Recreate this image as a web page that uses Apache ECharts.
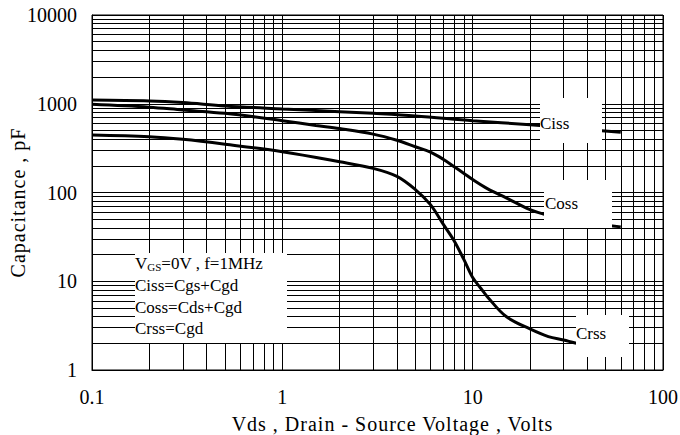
<!DOCTYPE html>
<html>
<head>
<meta charset="utf-8">
<script src="https://cdn.jsdelivr.net/npm/echarts@6/dist/echarts.min.js"></script>
<style>html,body{margin:0;padding:0;background:#fff}#c{width:680px;height:435px}</style>
</head>
<body>
<div id="c"></div>
<script>
// ---- data ----
var cissX = [0.1, 0.2, 0.3, 0.5, 1, 2, 3, 5, 10, 20, 30, 60];
var cissY = [1100, 1075, 1030, 945, 875, 815, 780, 730, 645, 580, 540, 476];

var cossX = [0.1, 0.2, 0.3, 0.5, 1, 1.5, 2, 3, 4, 5, 6, 7, 8, 9, 10, 12, 15, 20, 25, 30, 40, 60];
var cossY = [985, 915, 850, 780, 645, 570, 525, 455, 388, 328, 285, 237, 195, 164, 140, 110, 87, 64, 55, 51, 46, 41];

var crssX = [0.1, 0.2, 0.3, 0.5, 1, 2, 3, 4, 5, 6, 7, 8, 9, 10, 11, 12, 15, 20, 25, 30, 35];
var crssY = [445, 425, 397, 350, 288, 222, 187, 152, 108, 73, 44, 28.5, 17.5, 11, 8.4, 6.6, 4.0, 2.9, 2.38, 2.18, 2.0];

var xTicks = [0.1, 1, 10, 100];
var yTicks = [1, 10, 100, 1000, 10000];
var xName = 'Vds , Drain - Source Voltage , Volts';
var yName = 'Capacitance , pF';
var curveLabels = ['Ciss', 'Coss', 'Crss'];
var noteLines = ['Ciss=Cgs+Cgd', 'Coss=Cds+Cgd', 'Crss=Cgd'];

function pairs(xs, ys) { return xs.map(function (x, i) { return [x, ys[i]]; }); }

// minor grid values at 2..9 within each decade
var minorX = [], minorY = [];
[0.1, 1, 10].forEach(function (d) { for (var k = 2; k <= 9; k++) minorX.push(+(k * d).toFixed(3)); });
[1, 10, 100, 1000].forEach(function (d) { for (var k = 2; k <= 9; k++) minorY.push(k * d); });

var FONT = '"Liberation Serif", "Times New Roman", serif';
var chart = echarts.init(document.getElementById('c'), null, { renderer: 'svg' });

var lineStyleCurve = { color: '#000', width: 3 };
var gridMark = {
  silent: true, symbol: 'none', animation: false,
  label: { show: false },
  lineStyle: { color: '#000', width: 1, type: 'solid' },
  emphasis: { disabled: true },
  data: minorX.map(function (v) { return { xAxis: v }; })
    .concat(minorY.map(function (v) { return { yAxis: v }; }))
};

chart.setOption({
  animation: false,
  backgroundColor: '#fff',
  grid: { left: 92, top: 15, width: 571, height: 355, outerBoundsMode: 'none', containLabel: false,
    show: true, borderColor: '#000', borderWidth: 1, backgroundColor: 'transparent' },
  xAxis: {
    type: 'log', logBase: 10, min: 0.1, max: 100,
    axisLine: { show: true, lineStyle: { color: '#000', width: 1 } },
    axisTick: { show: false },
    splitLine: { show: true, lineStyle: { color: '#000', width: 1 } },
    axisLabel: { color: '#000', fontFamily: FONT, fontSize: 20, margin: 17,
      formatter: function (v) { var i = xTicks.indexOf(+v); return i >= 0 ? String(xTicks[i]) : ''; } },
    name: xName, nameLocation: 'middle', nameGap: 44, nameMoveOverlap: false,
    nameTextStyle: { color: '#000', fontFamily: FONT, fontSize: 20, padding: [0, 0, 0, 30] }
  },
  yAxis: {
    type: 'log', logBase: 10, min: 1, max: 10000,
    axisLine: { show: true, lineStyle: { color: '#000', width: 1 } },
    axisTick: { show: false },
    splitLine: { show: true, lineStyle: { color: '#000', width: 1 } },
    axisLabel: { color: '#000', fontFamily: FONT, fontSize: 20, margin: 15,
      formatter: function (v) { var i = yTicks.indexOf(+v); return i >= 0 ? String(yTicks[i]) : ''; } },
    name: yName, nameLocation: 'middle', nameGap: 64, nameRotate: 90, nameMoveOverlap: false,
    nameTextStyle: { color: '#000', fontFamily: FONT, fontSize: 20, padding: [0, 20, 0, 0] }
  },
  series: [
    { type: 'line', name: 'grid', data: [], z: 1, silent: true, markLine: gridMark },
    { type: 'line', name: curveLabels[0], data: pairs(cissX, cissY), smooth: 0.35, showSymbol: false, lineStyle: lineStyleCurve, z: 3 },
    { type: 'line', name: curveLabels[1], data: pairs(cossX, cossY), smooth: 0.35, showSymbol: false, lineStyle: lineStyleCurve, z: 3 },
    { type: 'line', name: curveLabels[2], data: pairs(crssX, crssY), smooth: 0.35, showSymbol: false, lineStyle: lineStyleCurve, z: 3 }
  ],
  graphic: [
    { type: 'rect', z: 100, shape: { x: 135, y: 253, width: 152, height: 90 }, style: { fill: '#fff' } },
    { type: 'text', z: 101, x: 135, y: 263, style: {
        text: '{v|V}{s|GS}{v|=0V , f=1MHz}', verticalAlign: 'middle',
        rich: { v: { fontFamily: FONT, fontSize: 17, fill: '#000' }, s: { fontFamily: FONT, fontSize: 11, fill: '#000', padding: [7, 0, 0, 0] } } } },
    { type: 'text', z: 101, x: 135, y: 285, style: { text: noteLines[0], font: '17px ' + FONT, fill: '#000', verticalAlign: 'middle' } },
    { type: 'text', z: 101, x: 135, y: 307, style: { text: noteLines[1], font: '17px ' + FONT, fill: '#000', verticalAlign: 'middle' } },
    { type: 'text', z: 101, x: 135, y: 328, style: { text: noteLines[2], font: '17px ' + FONT, fill: '#000', verticalAlign: 'middle' } },

    { type: 'rect', z: 100, shape: { x: 540, y: 98, width: 62, height: 45 }, style: { fill: '#fff' } },
    { type: 'text', z: 101, x: 540, y: 123, style: { text: curveLabels[0], font: '17px ' + FONT, fill: '#000', verticalAlign: 'middle' } },
    { type: 'rect', z: 100, shape: { x: 544, y: 180, width: 68, height: 48 }, style: { fill: '#fff' } },
    { type: 'text', z: 101, x: 545, y: 203, style: { text: curveLabels[1], font: '17px ' + FONT, fill: '#000', verticalAlign: 'middle' } },
    { type: 'rect', z: 100, shape: { x: 576, y: 315, width: 53, height: 42 }, style: { fill: '#fff' } },
    { type: 'text', z: 101, x: 576, y: 333, style: { text: curveLabels[2], font: '17px ' + FONT, fill: '#000', verticalAlign: 'middle' } }
  ]
});

// axis titles in the reference are slightly letter-spaced
function spaceTitles() {
  var texts = document.querySelectorAll('#c svg text');
  texts.forEach(function (t) {
    if (t.textContent === xName || t.textContent === yName) t.style.letterSpacing = '1px';
  });
}
spaceTitles();
chart.on('finished', spaceTitles);
</script>
</body>
</html>
